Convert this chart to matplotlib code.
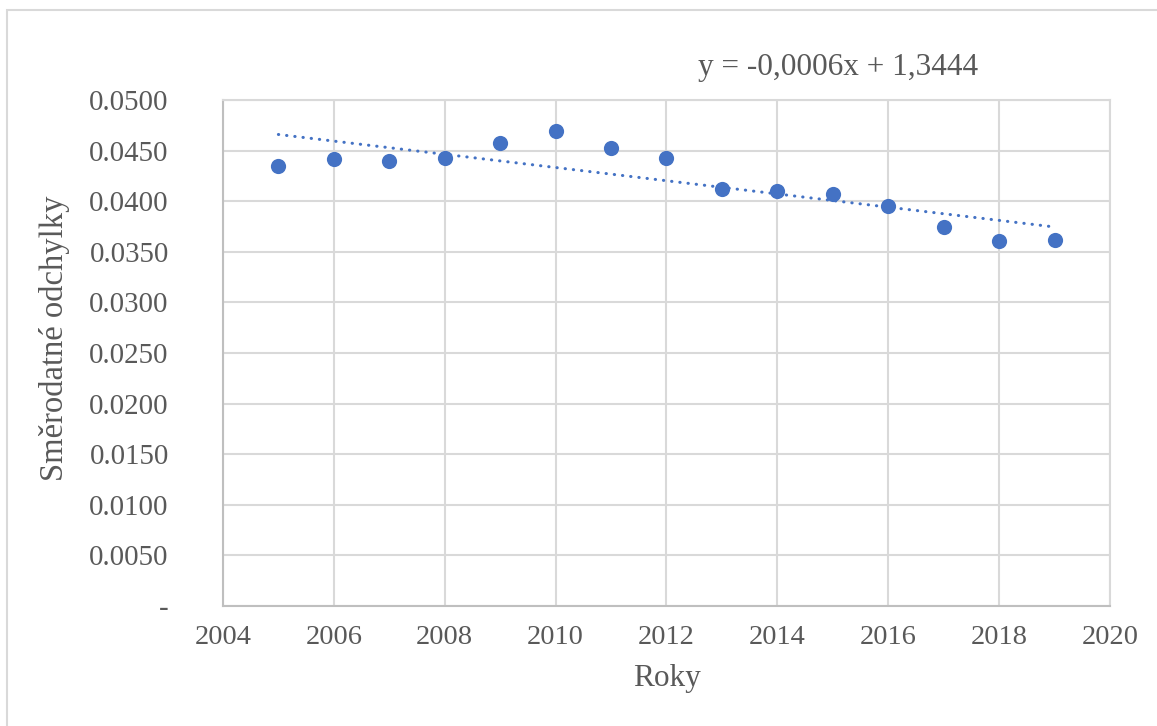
import numpy as np
import matplotlib.pyplot as plt
from matplotlib.ticker import FuncFormatter
from matplotlib.patches import Rectangle

# Years and standard deviations
roky = [2005, 2006, 2007, 2008, 2009, 2010, 2011, 2012,
        2013, 2014, 2015, 2016, 2017, 2018, 2019]
odchylky = [0.0435, 0.0442, 0.0440, 0.0443, 0.0457, 0.0469, 0.0453, 0.0443,
            0.0412, 0.0410, 0.0407, 0.0395, 0.0374, 0.0361, 0.0362]
rovnice = 'y = -0,0006x + 1,3444'

plt.rcParams['font.family'] = ['Liberation Serif', 'DejaVu Serif']
grey = '#595959'
blue = '#4472C4'

fig = plt.figure(figsize=(11.57, 7.26), dpi=100)
ax = fig.add_axes([0.1927, 0.1653, 0.7667, 0.697])

# chart area border
fig.patches.append(Rectangle((7 / 1157, -0.1), 1.2, 1 - 10 / 726 + 0.1,
                             transform=fig.transFigure, fill=False,
                             edgecolor='#d9d9d9', linewidth=1.5))

ax.scatter(roky, odchylky, s=120, color=blue, zorder=3, linewidths=0)

# linear trend
k, q = np.polyfit(roky, odchylky, 1)
xs = np.array([roky[0], roky[-1]])
ax.plot(xs, k * xs + q, color=blue, linewidth=2.2,
        linestyle=(0, (0.1, 2.6)), dash_capstyle='round', zorder=2)

ax.set_xlim(2004, 2020)
ax.set_ylim(0, 0.05)
ax.set_xticks(range(2004, 2021, 2))
ax.set_yticks(np.arange(0, 0.0501, 0.005))
ax.yaxis.set_major_formatter(FuncFormatter(lambda v, p: '-' if abs(v) < 1e-9 else f'{v:.4f}'))

ax.grid(True, color='#d9d9d9', linewidth=1.5)
ax.set_axisbelow(True)
for s in ax.spines.values():
    s.set_color('#d9d9d9')
    s.set_linewidth(1.5)
ax.spines['left'].set_color('#bfbfbf')
ax.spines['bottom'].set_color('#bfbfbf')
ax.tick_params(axis='x', length=0, labelsize=20.5, colors=grey, pad=14)
ax.tick_params(axis='y', length=0, labelsize=20.8, colors=grey, pad=39)
for lab in ax.get_yticklabels():
    lab.set_horizontalalignment('right')

ax.set_xlabel('Roky', fontsize=22.5, color=grey, labelpad=10)
ax.set_ylabel('Směrodatné odchylky', fontsize=23.5, color=grey, labelpad=14)
ax.yaxis.label.set_y(0.53)

fig.text(838 / 1157, 1 - 67 / 726, rovnice, fontsize=22.5, color=grey,
         ha='center', va='center')

fig.savefig('out.png', dpi=100)
